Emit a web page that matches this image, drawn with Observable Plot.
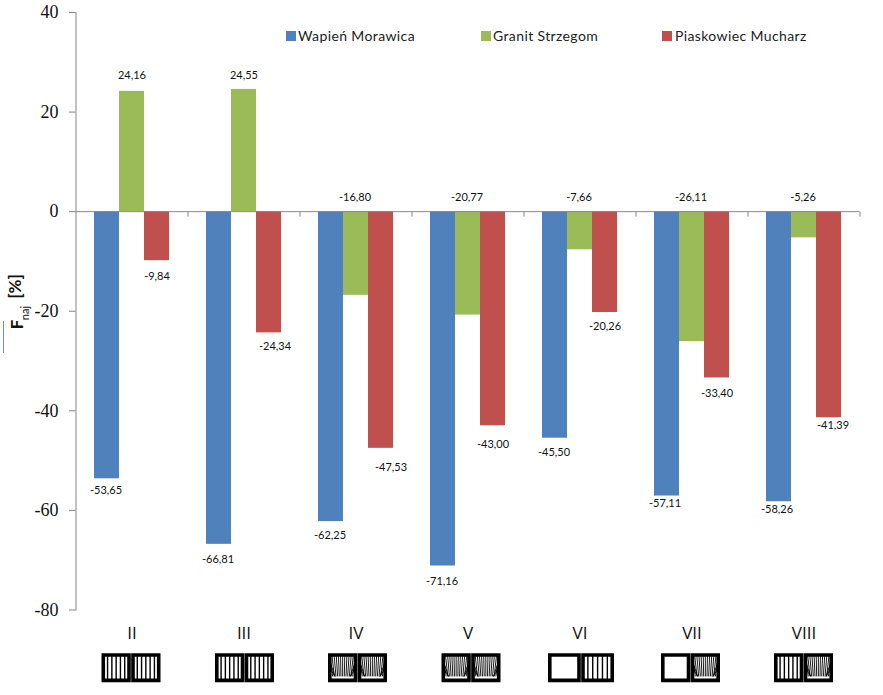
<!DOCTYPE html>
<html><head><meta charset="utf-8">
<script src="https://cdn.jsdelivr.net/npm/d3@7"></script>
<script src="https://cdn.jsdelivr.net/npm/@observablehq/plot@0.6"></script>
<style>
html,body{margin:0;padding:0;background:#fff}
#wrap{position:relative;width:883px;height:695px;overflow:hidden}
.lg{position:absolute;top:28px;font:14px Lato,sans-serif;letter-spacing:.38px;color:#222;white-space:nowrap;line-height:16px}
.sw{position:absolute;top:31px;width:10px;height:10px}
#stray{position:absolute;left:3px;top:321px;width:1px;height:32px;background:#6f93bd}
</style></head><body><div id="wrap"></div>
<script>
const groups = ["II","III","IV","V","VI","VII","VIII"];
const seriesNames = ["Wapień Morawica","Granit Strzegom","Piaskowiec Mucharz"];
const colors = ["#4F81BD","#9BBB59","#C0504D"];
const wapien = [-53.65,-66.81,-62.25,-71.16,-45.50,-57.11,-58.26];
const granit = [24.16,24.55,-16.80,-20.77,-7.66,-26.11,-5.26];
const piaskowiec = [-9.84,-24.34,-47.53,-43.00,-20.26,-33.40,-41.39];
const yTicks = [-80,-60,-40,-20,0,20,40];

// Label nudges in pixels from the default end-of-bar position
const labelDx = [
  [-1,-1,-1,-1,-1,-2,-2],
  [0,0,0,0,0,0,0],
  [0,6,10,0,0,0,4]];
const labelDy = [
  [12,15,14,15,14,7,8],
  [-16,-14,0,0,0,0,0],
  [16,14,19,19,14,15,8]];
// Icon left/right cell kinds: v = vertical ribs, f = fan ribs, e = empty
const iconCells = ["vv","vv","ff","ff","ev","ef","vf"];
const iconDx = [-1,0.5,1.5,3,1,-1.5,-0.5];
const iconHalfWidth = [29.5,29.5,29.5,29.5,33,29.5,29.5];

const rows = groups.flatMap((g,i)=>[wapien,granit,piaskowiec].map((s,j)=>({
  group:g, series:seriesNames[j], value:s[i], dx:labelDx[j][i], dy:labelDy[j][i],
  text:s[i].toFixed(2).replace(".",",")
})));

const rect=(c,x0,y0,x1,y1)=>{c.moveTo(x0,y0);c.lineTo(x1,y0);c.lineTo(x1,y1);c.lineTo(x0,y1);c.closePath();};
const seg=(c,x0,y0,x1,y1)=>{c.moveTo(x0,y0);c.lineTo(x1,y1);};
const H=12.7, B=1.8;
const cellsOf=w=>[[-w+B,-0.2-B],[0.2+B,w-B]];
const boxSymbol=w=>({draw(c){cellsOf(w).forEach(([a,b])=>rect(c,a,-H,b,H));}});
const vertSymbol=(w,cells)=>({draw(c){
  cellsOf(w).forEach(([a,b],n)=>{
    if(cells[n]==="v"){for(let i=1;i<=5;i++){const x=a+(b-a)*i/6;seg(c,x,-H,x,H);}}
  });
}});
const fanSymbol=(w,cells)=>({draw(c){
  cellsOf(w).forEach(([a,b],n)=>{
    if(cells[n]!=="f")return;
    const cw=b-a,m=(a+b)/2,base=H-4;
    for(let i=0;i<=12;i++){
      const t=i/12;
      seg(c,a+cw*t,-H,m+(t-.5)*cw*.78,base);
    }
    [0.3,0.6].forEach(f=>{
      const y=-H+(base+H)*f;
      seg(c,a,y,a+cw*.2,base);
      seg(c,b,y,b-cw*.2,base);
    });
  });
}});
const tickSymbol={draw(c){seg(c,0,0,0,5);}};

const iconMarks = groups.flatMap((g,i)=>{
  const base={fx:d=>d,frameAnchor:"bottom",dy:57.7,dx:iconDx[i],r:5,stroke:"#000",fill:"none"};
  return [
    Plot.dot([g],{...base,strokeWidth:1.4,symbol:vertSymbol(iconHalfWidth[i],iconCells[i])}),
    Plot.dot([g],{...base,strokeWidth:0.9,symbol:fanSymbol(iconHalfWidth[i],iconCells[i])}),
    Plot.dot([g],{...base,strokeWidth:3.6,symbol:boxSymbol(iconHalfWidth[i])})
  ];
});

const labelMarks = rows.map(r=>Plot.text([r],{
  fx:"group",x:"series",y:"value",text:"text",
  dx:r.dx,dy:r.dy,
  ...(r.value<0&&r.series===seriesNames[1]?{y:()=>0,dy:-14,dx:-1}:{}),
  fontSize:11,fontFamily:"Lato,sans-serif",fill:"#111"
}));

const chart = Plot.plot({
  width:883,height:695,
  marginLeft:75.5,marginRight:23.5,marginTop:12,marginBottom:85.5,
  style:{background:"#fff"},
  fx:{domain:groups,padding:0,label:null,round:false},
  x:{domain:seriesNames,paddingInner:0,paddingOuter:0.74,axis:null,round:false},
  y:{domain:[-80,40],ticks:yTicks,label:null,axis:null},
  color:{domain:seriesNames,range:colors},
  marks:[
    Plot.barY(rows,{fx:"group",x:"series",y:"value",fill:"series",insetLeft:0,insetRight:0}),
    Plot.ruleY([0],{stroke:"#868686",strokeWidth:1}),
    Plot.dot([0],{y:d=>d,frameAnchor:"right",symbol:tickSymbol,r:3,stroke:"#868686",strokeWidth:1}),
    Plot.frame({anchor:"left",stroke:"#868686",facetAnchor:"left"}),
    Plot.axisY(yTicks,{anchor:"left",tickSize:6.5,tickPadding:11,stroke:"#868686",fill:"#111",fontSize:18,
      fontFamily:"'Liberation Serif',serif",tickFormat:d=>String(d),label:null}),
    Plot.axisFx({anchor:"bottom",tickSize:0,tickPadding:17,fontSize:17,fontFamily:"'Open Sans',sans-serif",fill:"#111",label:null}),
    ...labelMarks,
    ...iconMarks,
    Plot.text(["F"],{y:()=>-23.6,frameAnchor:"left",dx:-58.5,rotate:-90,fontWeight:"bold",fontSize:17,
      fontFamily:"Lato,sans-serif",fill:"#111",facetAnchor:"left"}),
    Plot.text(["naj"],{y:()=>-21.8,frameAnchor:"left",dx:-50.5,rotate:-90,fontSize:11,
      fontFamily:"Lato,sans-serif",fill:"#111",facetAnchor:"left"}),
    Plot.text(["[%]"],{y:()=>-17.5,frameAnchor:"left",dx:-60,rotate:-90,fontWeight:"bold",fontSize:17,
      fontFamily:"Lato,sans-serif",fill:"#111",facetAnchor:"left"})
  ]
});
const wrap=document.getElementById("wrap");
wrap.appendChild(chart);
const legendX=[[286,298],[481,493],[662,675]];
seriesNames.forEach((n,i)=>{
  const s=document.createElement("div");s.className="sw";s.style.left=legendX[i][0]+"px";s.style.background=colors[i];wrap.appendChild(s);
  const t=document.createElement("div");t.className="lg";t.style.left=legendX[i][1]+"px";t.textContent=n;wrap.appendChild(t);
});
const st=document.createElement("div");st.id="stray";wrap.appendChild(st);
</script></body></html>
